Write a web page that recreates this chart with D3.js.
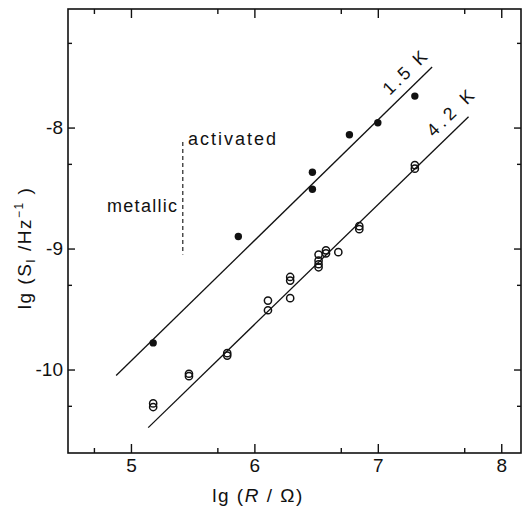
<!DOCTYPE html>
<html>
<head>
<meta charset="utf-8">
<script src="https://cdn.jsdelivr.net/npm/d3@7"></script>
<style>
  html, body { margin: 0; padding: 0; background: #fff; }
  svg { display: block; }
  text { font-family: "Liberation Sans", Arial, sans-serif; fill: #111; }
</style>
</head>
<body>
<svg id="chart" width="522" height="509"></svg>
<script>
// ---- data ----
const xMajorTicks = [5, 6, 7, 8];
const xMinorTicks = [4.7, 5.7, 6.7, 7.7];
const yMajorTicks = [-8, -9, -10];
const yMinorTicks = [-7.3, -8.3, -9.3, -10.3];

// 1.5 K (filled dots)
const k15X = [5.18, 5.87, 6.47, 6.47, 6.77, 7.00, 7.30];
const k15Y = [-9.78, -8.90, -8.37, -8.51, -8.06, -7.96, -7.74];
// 4.2 K (open circles)
const k42X = [5.18, 5.18, 5.47, 5.47, 5.78, 5.78, 6.11, 6.11, 6.29, 6.29, 6.29,
              6.52, 6.52, 6.52, 6.52, 6.58, 6.58, 6.68, 6.85, 6.85, 7.30, 7.30];
const k42Y = [-10.28, -10.31, -10.035, -10.055, -9.865, -9.885, -9.43, -9.51, -9.235, -9.265, -9.41,
              -9.05, -9.10, -9.13, -9.155, -9.015, -9.04, -9.03, -8.815, -8.84, -8.31, -8.34];
// fit lines
const fit15X = [4.88, 7.44];
const fit15Y = [-10.05, -7.50];
const fit42X = [5.14, 7.735];
const fit42Y = [-10.48, -7.91];
// metallic / activated boundary
const boundaryX = [5.42, 5.42];
const boundaryY = [-8.12, -9.05];

// ---- layout ----
const svg = d3.select("#chart");
const mLeft = 68, mRight = 521, mTop = 9, mBottom = 453;
const x = d3.scaleLinear().domain([4.49, 8.16]).range([mLeft, mRight]);
const y = d3.scaleLinear().domain([-10.69, -7.02]).range([mBottom, mTop]);

const fontTick = 19;

function styleAxis(g) {
  g.select(".domain").remove();
  g.selectAll(".tick line").attr("stroke", "#111").attr("stroke-width", 1.4);
  g.selectAll(".tick text").style("font-size", fontTick + "px").attr("fill", "#111");
}

// bottom
svg.append("g").attr("transform", `translate(0,${mBottom})`)
  .call(d3.axisBottom(x).tickValues(xMajorTicks).tickSize(-9).tickPadding(6).tickFormat(d3.format("d")))
  .call(styleAxis);
svg.append("g").attr("transform", `translate(0,${mBottom})`)
  .call(d3.axisBottom(x).tickValues(xMinorTicks).tickSize(-5).tickFormat(""))
  .call(styleAxis);
// top
svg.append("g").attr("transform", `translate(0,${mTop})`)
  .call(d3.axisTop(x).tickValues(xMajorTicks).tickSize(-9).tickFormat(""))
  .call(styleAxis);
svg.append("g").attr("transform", `translate(0,${mTop})`)
  .call(d3.axisTop(x).tickValues(xMinorTicks).tickSize(-5).tickFormat(""))
  .call(styleAxis);
// left
svg.append("g").attr("transform", `translate(${mLeft},0)`)
  .call(d3.axisLeft(y).tickValues(yMajorTicks).tickSize(-7).tickPadding(5).tickFormat(d => String(d)))
  .call(styleAxis);
svg.append("g").attr("transform", `translate(${mLeft},0)`)
  .call(d3.axisLeft(y).tickValues(yMinorTicks).tickSize(-4).tickFormat(""))
  .call(styleAxis);
// right
svg.append("g").attr("transform", `translate(${mRight},0)`)
  .call(d3.axisRight(y).tickValues(yMajorTicks).tickSize(-7).tickFormat(""))
  .call(styleAxis);
svg.append("g").attr("transform", `translate(${mRight},0)`)
  .call(d3.axisRight(y).tickValues(yMinorTicks).tickSize(-4).tickFormat(""))
  .call(styleAxis);

// frame
svg.append("rect")
  .attr("x", mLeft).attr("y", mTop)
  .attr("width", mRight - mLeft).attr("height", mBottom - mTop)
  .attr("fill", "none").attr("stroke", "#111").attr("stroke-width", 1.6);

// fit lines
const line = d3.line().x(d => x(d[0])).y(d => y(d[1]));
svg.append("path").datum(d3.zip(fit15X, fit15Y)).attr("d", line)
  .attr("fill", "none").attr("stroke", "#111").attr("stroke-width", 1.3);
svg.append("path").datum(d3.zip(fit42X, fit42Y)).attr("d", line)
  .attr("fill", "none").attr("stroke", "#111").attr("stroke-width", 1.3);

// boundary dashed line
svg.append("path").datum(d3.zip(boundaryX, boundaryY)).attr("d", line)
  .attr("fill", "none").attr("stroke", "#222").attr("stroke-width", 1.2)
  .attr("stroke-dasharray", "4,3");

// points
svg.append("g").selectAll("circle").data(d3.zip(k42X, k42Y)).join("circle")
  .attr("cx", d => x(d[0])).attr("cy", d => y(d[1])).attr("r", 3.6)
  .attr("fill", "none").attr("stroke", "#111").attr("stroke-width", 1.5);
svg.append("g").selectAll("circle").data(d3.zip(k15X, k15Y)).join("circle")
  .attr("cx", d => x(d[0])).attr("cy", d => y(d[1])).attr("r", 3.7)
  .attr("fill", "#111");

// annotations
svg.append("text").attr("x", 188).attr("y", 145)
  .style("font-size", "18px").style("letter-spacing", "2px").text("activated");
svg.append("text").attr("x", 107).attr("y", 212)
  .style("font-size", "18px").style("letter-spacing", "1.3px").text("metallic");

const ang = -Math.atan2(y(-9) - y(-8), x(7) - x(6)) * 180 / Math.PI;
svg.append("text").attr("transform", `translate(410,76) rotate(${ang})`)
  .attr("text-anchor", "middle")
  .style("font-size", "18px").style("letter-spacing", "3px").text("1.5 K");
svg.append("text").attr("transform", `translate(456,116) rotate(${ang})`)
  .attr("text-anchor", "middle")
  .style("font-size", "18px").style("letter-spacing", "4px").text("4.2 K");

// axis titles
const xt = svg.append("text").attr("x", 258).attr("y", 502).attr("text-anchor", "middle")
  .style("font-size", "19px").style("letter-spacing", "1.5px");
xt.append("tspan").text("lg (");
xt.append("tspan").style("font-style", "italic").text("R");
xt.append("tspan").text(" / Ω)");

const yt = svg.append("text").attr("transform", "translate(31,248) rotate(-90)")
  .attr("text-anchor", "middle")
  .style("font-size", "19px").style("letter-spacing", "1.5px");
yt.append("tspan").text("lg (S");
yt.append("tspan").attr("dy", 4).style("font-size", "12px").text("I");
yt.append("tspan").attr("dy", -4).text(" /Hz");
yt.append("tspan").attr("dy", -8).style("font-size", "12px").text("−1");
yt.append("tspan").attr("dy", 8).text(" )");
</script>
</body>
</html>
